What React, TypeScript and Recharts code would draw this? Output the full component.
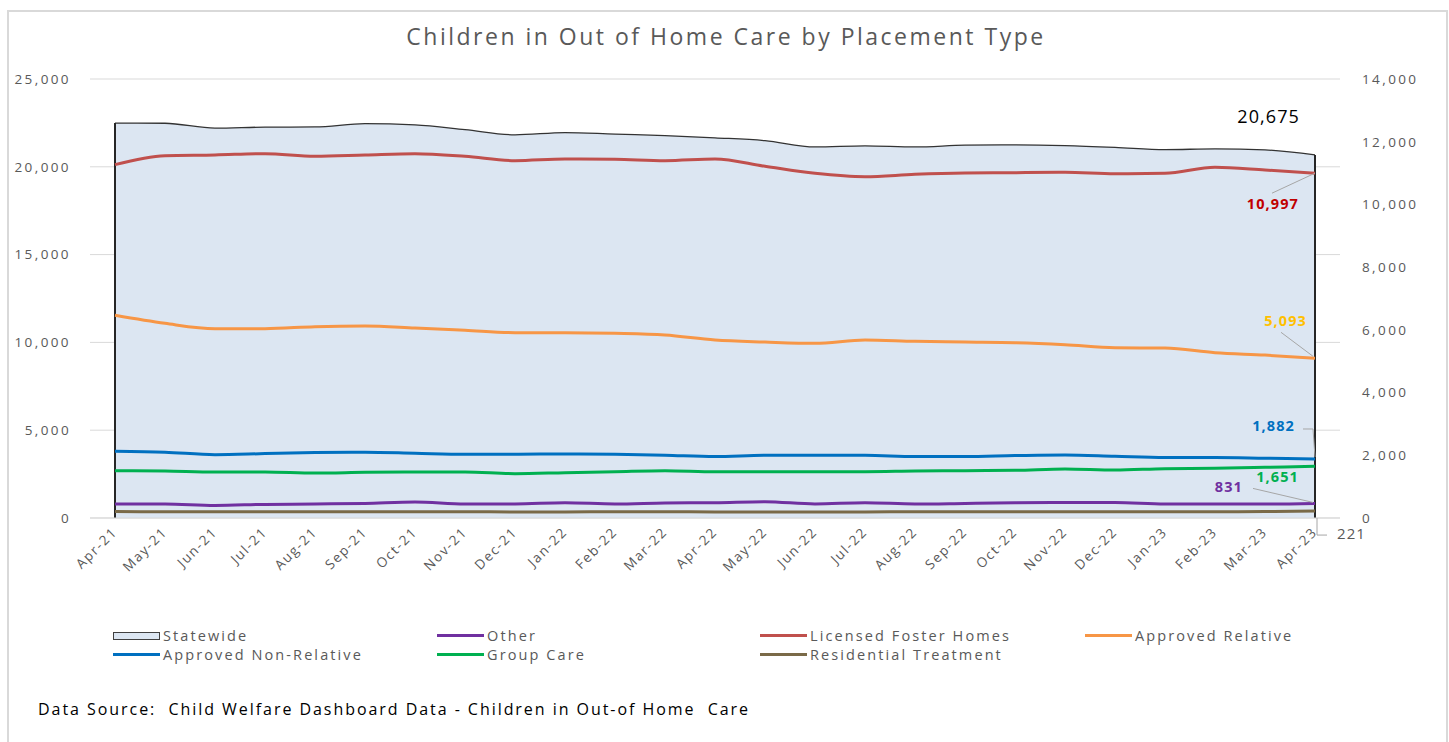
import React from "react";
import {
  ComposedChart,
  Area,
  Line,
  XAxis,
  YAxis,
  CartesianGrid,
  LabelList,
  ReferenceLine,
} from "recharts";

const months = [
  "Apr-21", "May-21", "Jun-21", "Jul-21", "Aug-21", "Sep-21", "Oct-21", "Nov-21",
  "Dec-21", "Jan-22", "Feb-22", "Mar-22", "Apr-22", "May-22", "Jun-22", "Jul-22",
  "Aug-22", "Sep-22", "Oct-22", "Nov-22", "Dec-22", "Jan-23", "Feb-23", "Mar-23", "Apr-23",
];

// left axis
const statewide = [
  22490, 22480, 22200, 22260, 22270, 22460, 22390, 22120, 21820, 21950, 21860, 21780,
  21650, 21490, 21130, 21190, 21130, 21230, 21250, 21210, 21110, 20980, 21020, 20960, 20675,
];
const other = [
  797, 797, 718, 775, 797, 832, 911, 797, 797, 871, 797, 854, 871, 928, 797, 871, 797,
  832, 871, 889, 889, 797, 797, 797, 831,
];

// right axis
const licensedFoster = [
  11268, 11555, 11578, 11619, 11536, 11578, 11619, 11536, 11396, 11450, 11440, 11396,
  11450, 11216, 10992, 10885, 10960, 11002, 11012, 11024, 10980, 10992, 11184, 11098, 10997,
];
const approvedRelative = [
  6464, 6208, 6038, 6038, 6102, 6123, 6059, 5985, 5910, 5910, 5889, 5835, 5675, 5611,
  5569, 5675, 5633, 5611, 5590, 5526, 5430, 5420, 5271, 5195, 5093,
];
const approvedNonRelative = [
  2128, 2096, 2021, 2053, 2085, 2096, 2064, 2032, 2032, 2043, 2032, 2000, 1958, 2000,
  2000, 2000, 1958, 1958, 1990, 2011, 1968, 1926, 1926, 1905, 1882,
];
const groupCare = [
  1510, 1499, 1467, 1467, 1435, 1456, 1467, 1467, 1414, 1446, 1478, 1510, 1478, 1478,
  1478, 1478, 1499, 1510, 1521, 1563, 1531, 1574, 1585, 1617, 1651,
];
const residential = [
  205, 200, 198, 196, 196, 198, 196, 196, 195, 195, 196, 196, 195, 195, 195, 195, 196,
  196, 196, 196, 196, 198, 200, 205, 221,
];

const leftTicks = [0, 5000, 10000, 15000, 20000, 25000];
const rightTicks = [0, 2000, 4000, 6000, 8000, 10000, 12000, 14000];
const edgeTicks = [0, 1, 2, 3, 4, 5, 6, 7, 8, 9, 10, 11, 12, 13, 14, 15, 16, 17, 18, 19, 20, 21, 22, 23, 24, 25];

const data = months.map((month, i) => ({
  month,
  statewide: statewide[i],
  other: other[i],
  licensedFoster: licensedFoster[i],
  approvedRelative: approvedRelative[i],
  approvedNonRelative: approvedNonRelative[i],
  groupCare: groupCare[i],
  residential: residential[i],
}));

const FONT = "'Open Sans', sans-serif";
const GRAY = "#595959";
const fmt = (v: number) => Number(v).toLocaleString("en-US");

type LabelOpts = {
  color: string;
  dx: number;
  dy: number;
  anchor: "start" | "end";
  bold?: boolean;
  size?: number;
  leader?: (x: number, y: number) => string;
};

const endLabel = (o: LabelOpts) => (props: any) => {
  const { index, value } = props;
  if (index !== months.length - 1) return null;
  const x = props.x ?? props.viewBox?.x;
  const y = props.y ?? props.viewBox?.y;
  return (
    <g>
      {o.leader && (
        <path d={o.leader(x, y)} fill="none" stroke="#A6A6A6" strokeWidth={1} />
      )}
      <text
        x={x + o.dx}
        y={y + o.dy}
        textAnchor={o.anchor}
        fill={o.color}
        fontFamily={FONT}
        fontSize={o.size ?? 14.5}
        fontWeight={o.bold === false ? 400 : 700}
        letterSpacing={1.1}
      >
        {fmt(value)}
      </text>
    </g>
  );
};

const MonthTick = (props: any) => {
  const { x, y, payload } = props;
  return (
    <text
      x={x + 3}
      y={y + 13}
      transform={`rotate(-45, ${x + 3}, ${y + 13})`}
      textAnchor="end"
      fill={GRAY}
      fontFamily={FONT}
      fontSize={13.5}
      letterSpacing={1.6}
    >
      {payload.value}
    </text>
  );
};

const legendItems = [
  { name: "Statewide", color: "#DCE6F2", box: true, col: 0, row: 0 },
  { name: "Other", color: "#7030A0", col: 1, row: 0 },
  { name: "Licensed Foster Homes", color: "#C0504D", col: 2, row: 0 },
  { name: "Approved Relative", color: "#F79646", col: 3, row: 0 },
  { name: "Approved Non-Relative", color: "#0070C0", col: 0, row: 1 },
  { name: "Group Care", color: "#00B050", col: 1, row: 1 },
  { name: "Residential Treatment", color: "#7A6A48", col: 2, row: 1 },
];
const legendCols = [113, 437, 760, 1085];

const axisTick = { fill: GRAY, fontSize: 13.5, fontFamily: FONT, letterSpacing: 2.4 };

export default function App() {
  return (
    <div
      style={{
        position: "absolute",
        left: 0,
        top: 0,
        width: 1449,
        height: 742,
        background: "#fff",
        overflow: "hidden",
        fontFamily: FONT,
      }}
    >
      <div
        style={{
          position: "absolute",
          left: 7,
          top: 10,
          width: 1437,
          height: 740,
          border: "2px solid #D9D9D9",
        }}
      />
      <div
        style={{
          position: "absolute",
          left: 0,
          top: 20,
          width: 1452,
          textAlign: "center",
          fontSize: 23,
          letterSpacing: 2.5,
          color: GRAY,
        }}
      >
        Children in Out of Home Care by Placement Type
      </div>

      <div style={{ position: "absolute", left: 0, top: 0 }}>
        <ComposedChart
          width={1449}
          height={742}
          data={data}
          margin={{ top: 79, right: 9, bottom: 164, left: 10 }}
        >
          <CartesianGrid yAxisId="left" vertical={false} stroke="#D9D9D9" />
          <XAxis
            xAxisId="edges"
            type="number"
            domain={[0, 25]}
            ticks={edgeTicks}
            allowDataOverflow
            tick={false}
            tickSize={5}
            axisLine={false}
            tickLine={{ stroke: "#D9D9D9" }}
            height={0}
          />
          <XAxis
            dataKey="month"
            scale="band"
            interval={0}
            height={60}
            tickSize={0}
            tickLine={false}
            axisLine={{ stroke: "#D9D9D9" }}
            tick={<MonthTick />}
          />
          <YAxis
            yAxisId="left"
            domain={[0, 25000]}
            ticks={leftTicks}
            width={80}
            axisLine={false}
            tickLine={false}
            tickSize={0}
            tickMargin={19}
            tickFormatter={fmt}
            tick={axisTick}
          />
          <YAxis
            yAxisId="right"
            orientation="right"
            domain={[0, 14000]}
            ticks={rightTicks}
            width={100}
            axisLine={false}
            tickLine={false}
            tickSize={0}
            tickMargin={22}
            tickFormatter={fmt}
            tick={axisTick}
          />

          <Area
            yAxisId="left"
            type="monotone"
            dataKey="statewide"
            fill="#DCE6F2"
            fillOpacity={1}
            stroke="#333333"
            strokeWidth={1.3}
            isAnimationActive={false}
          >
            <LabelList
              dataKey="statewide"
              content={endLabel({ color: "#000", dx: -15, dy: -32, anchor: "end", bold: false, size: 18 })}
            />
          </Area>
          <ReferenceLine
            yAxisId="left"
            segment={[
              { x: months[0], y: 0 },
              { x: months[0], y: statewide[0] },
            ]}
            stroke="#262626"
            strokeWidth={2}
          />
          <ReferenceLine
            yAxisId="left"
            segment={[
              { x: months[months.length - 1], y: 0 },
              { x: months[months.length - 1], y: statewide[statewide.length - 1] },
            ]}
            stroke="#262626"
            strokeWidth={2}
          />

          <Line
            yAxisId="left"
            type="monotone"
            dataKey="other"
            stroke="#7030A0"
            strokeWidth={3}
            dot={false}
            isAnimationActive={false}
          >
            <LabelList
              dataKey="other"
              content={endLabel({
                color: "#7030A0",
                dx: -72,
                dy: -11,
                anchor: "end",
                leader: (x, y) => `M${x - 2},${y - 1} L${x - 62},${y - 15}`,
              })}
            />
          </Line>
          <Line
            yAxisId="right"
            type="monotone"
            dataKey="licensedFoster"
            stroke="#C0504D"
            strokeWidth={3}
            dot={false}
            isAnimationActive={false}
          >
            <LabelList
              dataKey="licensedFoster"
              content={endLabel({
                color: "#C00000",
                dx: -16,
                dy: 36,
                anchor: "end",
                leader: (x, y) => `M${x},${y} L${x - 43},${y + 20}`,
              })}
            />
          </Line>
          <Line
            yAxisId="right"
            type="monotone"
            dataKey="approvedRelative"
            stroke="#F79646"
            strokeWidth={3}
            dot={false}
            isAnimationActive={false}
          >
            <LabelList
              dataKey="approvedRelative"
              content={endLabel({
                color: "#FFC000",
                dx: -8,
                dy: -32,
                anchor: "end",
                leader: (x, y) => `M${x - 2},${y - 2} L${x - 34},${y - 26}`,
              })}
            />
          </Line>
          <Line
            yAxisId="right"
            type="monotone"
            dataKey="approvedNonRelative"
            stroke="#0070C0"
            strokeWidth={3}
            dot={false}
            isAnimationActive={false}
          >
            <LabelList
              dataKey="approvedNonRelative"
              content={endLabel({
                color: "#0070C0",
                dx: -20,
                dy: -28,
                anchor: "end",
                leader: (x, y) => `M${x},${y - 2} L${x - 2},${y - 30} L${x - 12},${y - 30}`,
              })}
            />
          </Line>
          <Line
            yAxisId="right"
            type="monotone"
            dataKey="groupCare"
            stroke="#00B050"
            strokeWidth={3}
            dot={false}
            isAnimationActive={false}
          >
            <LabelList
              dataKey="groupCare"
              content={endLabel({ color: "#00B050", dx: -16, dy: 16, anchor: "end" })}
            />
          </Line>
          <Line
            yAxisId="right"
            type="monotone"
            dataKey="residential"
            stroke="#7A6A48"
            strokeWidth={3}
            dot={false}
            isAnimationActive={false}
          >
            <LabelList
              dataKey="residential"
              content={endLabel({
                color: GRAY,
                dx: 22,
                dy: 28,
                anchor: "start",
                bold: false,
                size: 15,
                leader: (x, y) => `M${x + 2},${y + 7} L${x + 2},${y + 24} L${x + 12},${y + 24}`,
              })}
            />
          </Line>
        </ComposedChart>
      </div>

      {legendItems.map((item) => (
        <div
          key={item.name}
          style={{
            position: "absolute",
            left: legendCols[item.col],
            top: 626 + item.row * 19,
            height: 19,
            display: "flex",
            alignItems: "center",
            fontSize: 14.5,
            letterSpacing: 2.1,
            color: GRAY,
            whiteSpace: "nowrap",
          }}
        >
          <span
            style={{
              display: "inline-block",
              width: item.box ? 45 : 47,
              height: item.box ? 6 : 3,
              background: item.color,
              border: item.box ? "1px solid #404040" : "none",
              marginRight: 3,
            }}
          />
          {item.name}
        </div>
      ))}

      <div
        style={{
          position: "absolute",
          left: 38,
          top: 698,
          fontSize: 16,
          letterSpacing: 1.95,
          color: "#000",
          whiteSpace: "pre",
        }}
      >
        {"Data Source:  Child Welfare Dashboard Data - Children in Out-of Home  Care"}
      </div>
    </div>
  );
}
